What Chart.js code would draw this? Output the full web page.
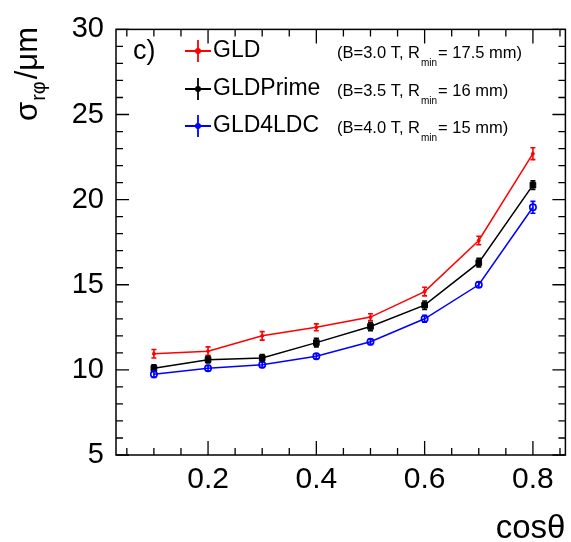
<!DOCTYPE html>
<html>
<head>
<meta charset="utf-8">
<script src="https://cdn.jsdelivr.net/npm/chart.js@4.4.0/dist/chart.umd.min.js"></script>
<style>
  html, body { margin: 0; padding: 0; background: #fff; }
</style>
</head>
<body>
<canvas id="resChart" width="571" height="542"></canvas>
<script>
// r-phi resolution vs cos(theta) for three detector options
const cosTheta = [0.1, 0.2, 0.3, 0.4, 0.5, 0.6, 0.7, 0.8]
const gldRes = [10.95, 11.1, 12.0, 12.5, 13.1, 14.6, 17.6, 22.7]
const gldErr = [0.25, 0.25, 0.25, 0.2, 0.2, 0.25, 0.25, 0.35]
const primeRes = [10.1, 10.6, 10.7, 11.6, 12.55, 13.8, 16.3, 20.85]
const primeErr = [0.2, 0.2, 0.2, 0.25, 0.25, 0.25, 0.25, 0.25]
const ldcRes = [9.75, 10.1, 10.3, 10.8, 11.65, 13.0, 15.0, 19.55]
const ldcErr = [0.2, 0.15, 0.15, 0.15, 0.15, 0.2, 0.15, 0.35]
const seriesNames = ['GLD', 'GLDPrime', 'GLD4LDC']
const seriesNotes = [['(B=3.0 T, R', '= 17.5 mm)'], ['(B=3.5 T, R', '= 16 mm)'], ['(B=4.0 T, R', '= 15 mm)']]
const yTicks = [5, 10, 15, 20, 25, 30]

const FONT = "'Liberation Sans', Arial, sans-serif"
const colors = ['#ff0000', '#000000', '#0000ff']
const errors = [gldErr, primeErr, ldcErr]

function toPoints(ys) {
  return cosTheta.map((x, i) => ({ x: x, y: ys[i] }))
}

// frame, inward ticks on all sides, error bars, titles and legend
const rootStyle = {
  id: 'rootStyle',
  afterDatasetsDraw(chart) {
    const ctx = chart.ctx
    const a = chart.chartArea
    const xs = chart.scales.x
    const ys = chart.scales.y

    ctx.save()
    // error bars
    chart.data.datasets.forEach((ds, d) => {
      ctx.strokeStyle = colors[d]
      ctx.lineWidth = 1.6
      ds.data.forEach((p, i) => {
        const px = xs.getPixelForValue(p.x)
        const top = ys.getPixelForValue(p.y + errors[d][i])
        const bot = ys.getPixelForValue(p.y - errors[d][i])
        ctx.beginPath()
        ctx.moveTo(px, top); ctx.lineTo(px, bot)
        ctx.moveTo(px - 2.5, top); ctx.lineTo(px + 2.5, top)
        ctx.moveTo(px - 2.5, bot); ctx.lineTo(px + 2.5, bot)
        ctx.stroke()
      })
    })

    // frame
    ctx.strokeStyle = '#000'
    ctx.lineWidth = 1.5
    ctx.strokeRect(a.left, a.top, a.right - a.left, a.bottom - a.top)

    // y ticks, every 1 with majors every 5
    ctx.lineWidth = 1.3
    ctx.beginPath()
    for (let v = 5; v <= 30; v++) {
      const py = ys.getPixelForValue(v)
      const len = v % 5 === 0 ? 13 : 7
      ctx.moveTo(a.left, py); ctx.lineTo(a.left + len, py)
      ctx.moveTo(a.right, py); ctx.lineTo(a.right - len, py)
    }
    // x ticks, every 0.05 with majors every 0.2
    for (let k = 1; k <= 17; k++) {
      const px = xs.getPixelForValue(k * 0.05)
      if (px < a.left || px > a.right) continue
      const len = k % 4 === 0 ? 14 : 7
      ctx.moveTo(px, a.bottom); ctx.lineTo(px, a.bottom - len)
      ctx.moveTo(px, a.top); ctx.lineTo(px, a.top + len)
    }
    ctx.stroke()

    ctx.fillStyle = '#000'
    // x title
    ctx.font = '33px ' + FONT
    ctx.textAlign = 'right'
    ctx.textBaseline = 'alphabetic'
    ctx.fillText('cos\u03b8', a.right, 538)

    // y title, rotated with subscript
    ctx.save()
    ctx.translate(37, 121)
    ctx.rotate(-Math.PI / 2)
    ctx.textAlign = 'left'
    ctx.font = '31px ' + FONT
    ctx.fillText('\u03c3', 0, 0)
    let off = ctx.measureText('\u03c3').width + 1
    ctx.font = '20px ' + FONT
    ctx.fillText('r\u03c6', off, 8)
    off += ctx.measureText('r\u03c6').width + 2
    ctx.font = '31px ' + FONT
    ctx.fillText('/\u03bcm', off, 0)
    ctx.restore()

    // panel tag
    ctx.font = '27px ' + FONT
    ctx.textAlign = 'left'
    ctx.textBaseline = 'middle'
    ctx.fillText('c)', 133, 52)

    // legend
    const rows = [51, 89, 126]
    rows.forEach((ry, r) => {
      const mx = 198
      ctx.strokeStyle = colors[r]
      ctx.fillStyle = colors[r]
      ctx.lineWidth = 1.8
      ctx.beginPath()
      ctx.moveTo(mx - 13, ry); ctx.lineTo(mx + 13, ry)
      ctx.moveTo(mx, ry - 11); ctx.lineTo(mx, ry + 11)
      ctx.stroke()
      ctx.beginPath()
      ctx.arc(mx, ry, 3, 0, Math.PI * 2)
      ctx.fill()

      ctx.fillStyle = '#000'
      ctx.font = '23px ' + FONT
      ctx.textBaseline = 'middle'
      ctx.fillText(seriesNames[r], 213, ry)

      ctx.font = '16.5px ' + FONT
      const nx = 337
      const ny = ry + 2
      ctx.fillText(seriesNotes[r][0], nx, ny)
      let w = ctx.measureText(seriesNotes[r][0]).width + 1
      ctx.font = '10px ' + FONT
      ctx.fillText('min', nx + w, ny + 10)
      w += ctx.measureText('min').width + 1
      ctx.font = '16.5px ' + FONT
      ctx.fillText(seriesNotes[r][1], nx + w, ny)
    })
    ctx.restore()
  }
}

const ctx = document.getElementById('resChart').getContext('2d')

const myChart = new Chart(ctx, {
  type: 'line',
  data: {
    datasets: [
      {
        label: seriesNames[0],
        data: toPoints(gldRes),
        borderColor: colors[0],
        backgroundColor: colors[0],
        borderWidth: 1.5,
        pointStyle: 'circle',
        pointRadius: 1.5,
        pointBorderWidth: 1
      },
      {
        label: seriesNames[1],
        data: toPoints(primeRes),
        borderColor: colors[1],
        backgroundColor: colors[1],
        borderWidth: 1.5,
        pointStyle: 'rect',
        pointRadius: 4,
        pointBorderWidth: 1
      },
      {
        label: seriesNames[2],
        data: toPoints(ldcRes),
        borderColor: colors[2],
        backgroundColor: 'rgba(0,0,0,0)',
        borderWidth: 1.5,
        pointStyle: 'circle',
        pointRadius: 3.2,
        pointBorderWidth: 1.6
      }
    ]
  },
  options: {
    responsive: false,
    animation: false,
    events: [],
    layout: { padding: { left: 0, top: 20, right: 5, bottom: 0 } },
    plugins: {
      legend: { display: false },
      tooltip: { enabled: false }
    },
    scales: {
      x: {
        type: 'linear',
        min: 0.03,
        max: 0.86,
        border: { display: false },
        grid: { display: false, drawTicks: false },
        ticks: {
          stepSize: 0.2,
          includeBounds: false,
          padding: 7,
          color: '#000',
          font: { family: FONT, size: 30 },
          callback: v => v.toFixed(1)
        },
        afterFit: s => { s.height = 87 }
      },
      y: {
        type: 'linear',
        min: 5,
        max: 30,
        border: { display: false },
        grid: { display: false, drawTicks: false },
        afterBuildTicks: s => { s.ticks = yTicks.map(v => ({ value: v })) },
        ticks: {
          padding: 12,
          color: '#000',
          font: { family: FONT, size: 29 }
        },
        afterFit: s => { s.width = 116 }
      }
    }
  },
  plugins: [rootStyle]
})
</script>
</body>
</html>
